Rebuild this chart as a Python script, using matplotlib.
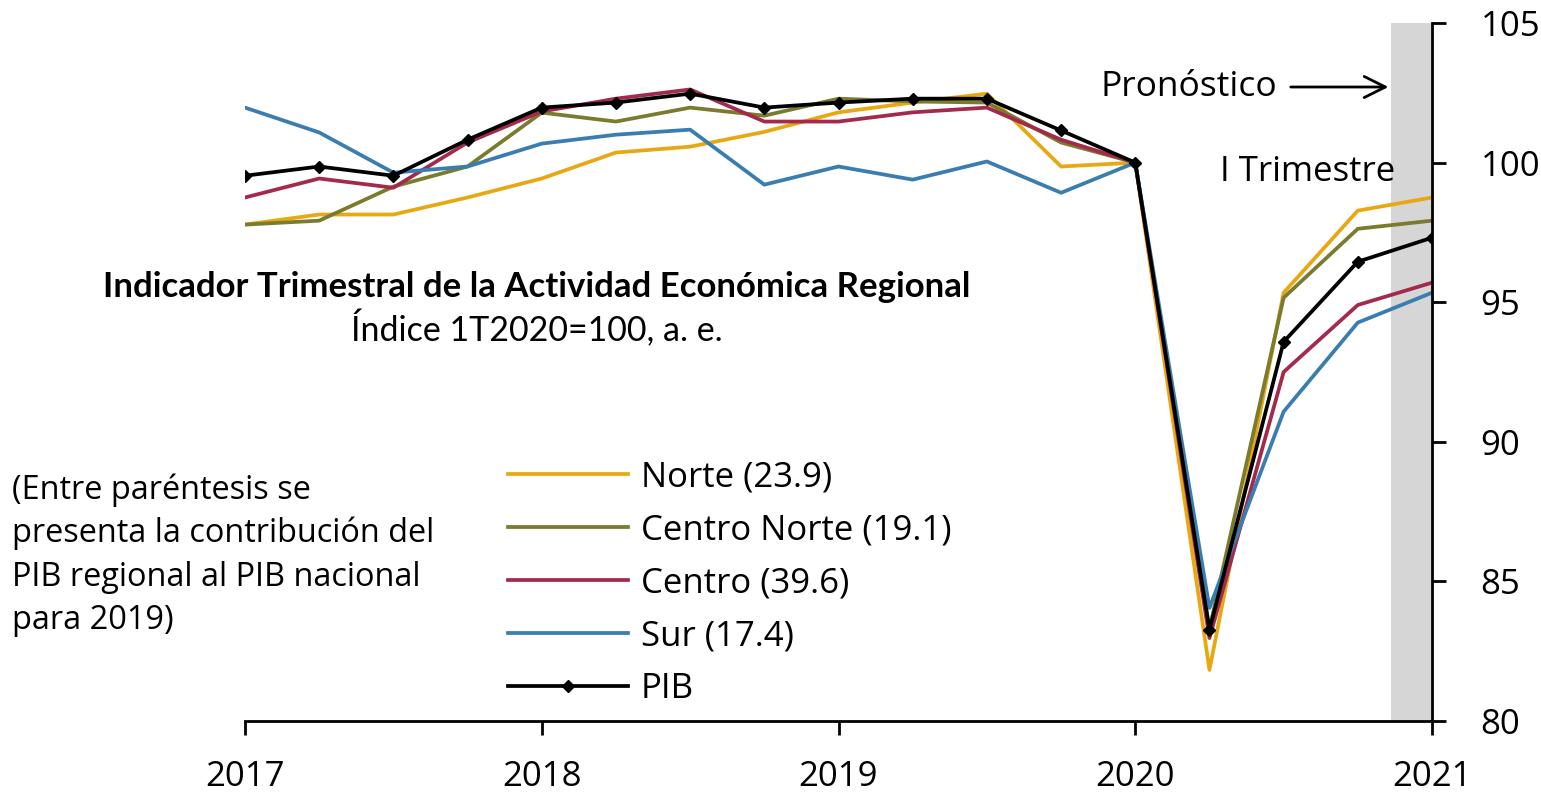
import numpy as np
import matplotlib.pyplot as plt

plt.rcParams['font.family'] = ['Open Sans', 'DejaVu Sans']

# trimestres 1T2017 .. 1T2021
quarters = np.arange(17)
years = ['2017', '2018', '2019', '2020', '2021']

norte = [97.78, 98.14, 98.14, 98.75, 99.43, 100.36, 100.57, 101.1, 101.8, 102.15, 102.47,
         99.86, 100.0, 81.83, 95.34, 98.28, 98.75]
centro_norte = [97.78, 97.92, 99.14, 99.86, 101.79, 101.47, 101.97, 101.68, 102.29, 102.19, 102.15,
                100.72, 100.0, 83.3, 95.16, 97.63, 97.92]
centro = [98.75, 99.43, 99.1, 100.72, 101.83, 102.29, 102.62, 101.47, 101.47, 101.8, 101.97,
          100.82, 100.0, 82.97, 92.5, 94.9, 95.7]
sur = [101.97, 101.08, 99.64, 99.86, 100.68, 101.0, 101.18, 99.21, 99.86, 99.39, 100.04,
       98.92, 100.0, 84.05, 91.08, 94.27, 95.34]
pib = [99.53, 99.86, 99.53, 100.82, 101.97, 102.15, 102.47, 101.97, 102.15, 102.29, 102.29,
       101.15, 100.0, 83.26, 93.58, 96.45, 97.31]

fig = plt.figure(figsize=(15.41, 7.93), dpi=100)
ax = fig.add_axes([245 / 1541, 1 - 721 / 793, (1432 - 245) / 1541, (721 - 23) / 793])

# area de pronostico
ax.axvspan(15.45, 16, color='#d6d6d6', lw=0, zorder=0)

lw = 2.7
ax.plot(quarters, norte, color='#E8A813', lw=lw, label='Norte (23.9)')
ax.plot(quarters, centro_norte, color='#7A7B2C', lw=lw, label='Centro Norte (19.1)')
ax.plot(quarters, centro, color='#A32A4C', lw=lw, label='Centro (39.6)')
ax.plot(quarters, sur, color='#3A7DB0', lw=lw, label='Sur (17.4)')
ax.plot(quarters, pib, color='black', lw=lw, marker='D', markersize=6.5, label='PIB')

ax.set_xlim(0, 16)
ax.set_ylim(80, 105)
ax.set_xticks([0, 4, 8, 12, 16])
ax.set_xticklabels(years)
ax.set_yticks([80, 85, 90, 95, 100, 105])
ax.yaxis.tick_right()
ax.spines['left'].set_visible(False)
ax.spines['top'].set_visible(False)
ax.spines['right'].set_linewidth(2)
ax.spines['bottom'].set_linewidth(2)
ax.tick_params(axis='x', direction='out', length=10, width=2, labelsize=25, pad=18)
ax.tick_params(axis='y', direction='out', length=10, width=2, labelsize=25, pad=25)
for sp in ax.spines.values():
    sp.set_clip_on(False)

leg = ax.legend(loc='upper left', bbox_to_anchor=(508 / 1541, 1 - 460 / 793),
                bbox_transform=fig.transFigure, frameon=False, fontsize=25,
                handlelength=3.45, handletextpad=0.37, labelspacing=0.55, borderpad=0,
                borderaxespad=0)

fig.text(537 / 1541, 1 - 287 / 793, 'Indicador Trimestral de la Actividad Económica Regional',
         fontsize=25, fontweight='bold', ha='center', va='center', family=['Lato', 'DejaVu Sans'])
fig.text(537 / 1541, 1 - 329 / 793, 'Índice 1T2020=100, a. e.',
         fontsize=24.5, ha='center', va='center', family=['Lato', 'DejaVu Sans'])

fig.text(12 / 1541, 1 - 555 / 793,
         '(Entre paréntesis se\npresenta la contribución del\nPIB regional al PIB nacional\npara 2019)',
         fontsize=23.4, ha='left', va='center', linespacing=1.41)

fig.text(1277 / 1541, 1 - 87 / 793, 'Pronóstico', fontsize=25.5, ha='right', va='center')
ax.annotate('', xy=(15.45, 1 - 87 / 793), xycoords=('data', 'figure fraction'),
            xytext=(1288 / 1541, 1 - 87 / 793), textcoords='figure fraction',
            arrowprops=dict(arrowstyle='->', lw=2, color='black', mutation_scale=38))
fig.text(1395 / 1541, 1 - 172 / 793, 'I Trimestre', fontsize=25, ha='right', va='center')

fig.savefig('out.png', dpi=100)
